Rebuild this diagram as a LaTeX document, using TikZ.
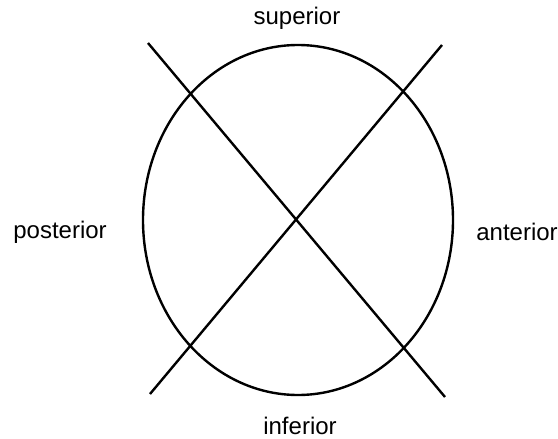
\documentclass[tikz,border=0pt]{standalone}
\usepackage{fontspec}
\setmainfont{Liberation Sans}
\usetikzlibrary{positioning}

\begin{document}
\begin{tikzpicture}[x=1pt,y=-1pt,
    axisline/.style={line width=2.4pt,black},
    dirlabel/.style={font=\fontsize{24}{28}\selectfont,inner sep=0pt}]
  \useasboundingbox (0,0) rectangle (558,439);
  \draw[axisline] (298,220) ellipse [x radius=155,y radius=175];

  \coordinate (ul) at (148,43);
  \coordinate (lr) at (445,397);
  \coordinate (ur) at (442,45);
  \coordinate (ll) at (150,394);
  \draw[axisline] (ul) -- (lr);
  \draw[axisline] (ur) -- (ll);

  \node[dirlabel] (superior) at (297,18) {superior};
  \node[dirlabel] (inferior) at (300,426) {inferior};
  \node[dirlabel] (posterior) at (60,232) {posterior};
  \node[dirlabel] (anterior) at (517,232) {anterior};
\end{tikzpicture}
\end{document}
